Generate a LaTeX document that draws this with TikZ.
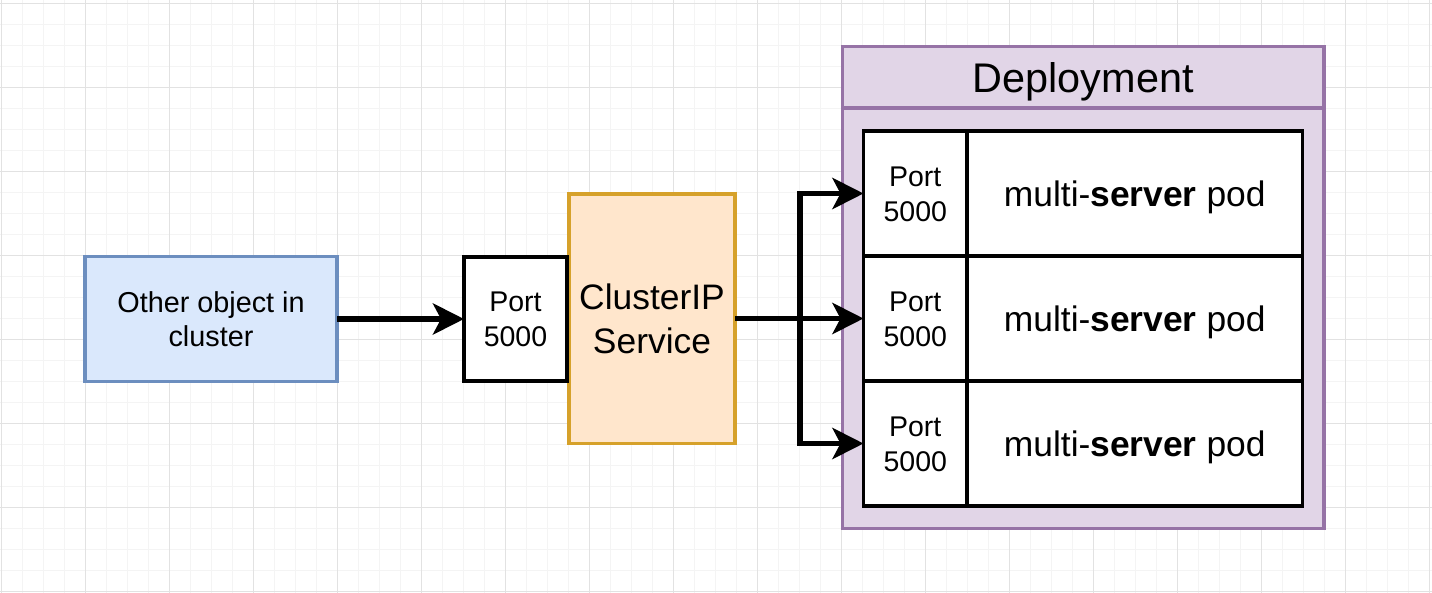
\documentclass[tikz,border=0pt]{standalone}
\usepackage{fontspec}
\setmainfont{Liberation Sans}
\usetikzlibrary{arrows.meta}
\definecolor{gridmajor}{HTML}{E2E2E2}
\definecolor{gridminor}{HTML}{F4F4F4}
\definecolor{bluefill}{HTML}{DAE8FC}
\definecolor{bluestroke}{HTML}{6C8EBF}
\definecolor{orangefill}{HTML}{FFE6CC}
\definecolor{orangestroke}{HTML}{D6A12A}
\definecolor{purplefill}{HTML}{E1D5E7}
\definecolor{purplestroke}{HTML}{9673A6}
\tikzset{
  boxbase/.style={rectangle, line width=3.6pt, inner sep=0pt, outer sep=0pt, align=center, text=black},
  otherbox/.style={boxbase, draw=bluestroke, fill=bluefill, font=\fontsize{28.8}{34}\selectfont, text height=54.6pt, text depth=0pt},
  portbox/.style={boxbase, draw=black, fill=white, font=\fontsize{28.5}{35}\selectfont, text height=55.4pt, text depth=0pt},
  clusterbox/.style={boxbase, draw=orangestroke, fill=orangefill, font=\fontsize{35.4}{44.7}\selectfont, text height=70pt, text depth=0pt},
  deplbox/.style={boxbase, draw=purplestroke, fill=purplefill},
  podbox/.style={boxbase, draw=black, fill=white, font=\fontsize{35.4}{42}\selectfont, text height=25.6pt, text depth=0pt},
  titletext/.style={inner sep=0pt, font=\fontsize{41.4}{48}\selectfont, text height=29.6pt, text depth=0pt},
  arr/.style={line width=5.8pt, line join=miter, draw=black, -{Stealth[length=31pt, width=31pt, inset=8pt]}},
  gridminorline/.style={draw=gridminor, line width=1pt},
  gridmajorline/.style={draw=gridmajor, line width=1pt},
}
\begin{document}
\begin{tikzpicture}[x=1pt, y=-1pt]
\useasboundingbox (0,0) rectangle (1432,593);
\fill[white] (0,0) rectangle (1432,593);
% grid
\foreach \i in {0,...,68} {
  \pgfmathsetmacro{\gx}{1.3+21*\i}
  \draw[gridminorline] (\gx,0) -- (\gx,593);
}
\foreach \i in {0,...,28} {
  \pgfmathsetmacro{\gy}{3.5+21*\i}
  \draw[gridminorline] (0,\gy) -- (1432,\gy);
}
\foreach \i in {0,...,17} {
  \pgfmathsetmacro{\gx}{1.3+84*\i}
  \draw[gridmajorline] (\gx,0) -- (\gx,593);
}
\foreach \i in {0,...,7} {
  \pgfmathsetmacro{\gy}{3.5+84*\i}
  \draw[gridmajorline] (0,\gy) -- (1432,\gy);
}
% left side
\node[otherbox, minimum width=252pt, minimum height=125pt] (other) at (211,319) {Other object in\\cluster};
\node[clusterbox, minimum width=166pt, minimum height=249.5pt] (cluster) at (652,318.75) {ClusterIP\\Service};
\node[portbox, minimum width=103pt, minimum height=124.5pt] (sport) at (515.5,319) {Port\\5000};
% deployment
\node[deplbox, minimum width=481.5pt, minimum height=482pt] (depl) at (1083.25,287.5) {};
\coordinate (hl) at (842.5,108);
\coordinate (hr) at (1324,108);
\draw[line width=3.6pt, draw=purplestroke] (hl) -- (hr);
\node[titletext] (title) at (1083.25,77.3) {Deployment};
% pods
\node[podbox, minimum width=335.5pt, minimum height=125pt] (s1) at (1134.75,193.5) {multi-\textbf{server} pod};
\node[podbox, minimum width=335.5pt, minimum height=125pt] (s2) at (1134.75,318.5) {multi-\textbf{server} pod};
\node[podbox, minimum width=335.5pt, minimum height=125pt] (s3) at (1134.75,443.5) {multi-\textbf{server} pod};
\node[portbox, minimum width=103.5pt, minimum height=125pt] (p1) at (915.25,193.5) {Port\\5000};
\node[portbox, minimum width=103.5pt, minimum height=125pt] (p2) at (915.25,318.5) {Port\\5000};
\node[portbox, minimum width=103.5pt, minimum height=125pt] (p3) at (915.25,443.5) {Port\\5000};
% connectors
\coordinate (br) at (800,318.5);
\draw[arr] (other.east) -- (sport.west);
\draw[arr] (cluster.east |- p2.west) -- (p2.west);
\draw[arr] (br) |- (p1.west);
\draw[arr] (br) |- (p3.west);
\end{tikzpicture}
\end{document}
